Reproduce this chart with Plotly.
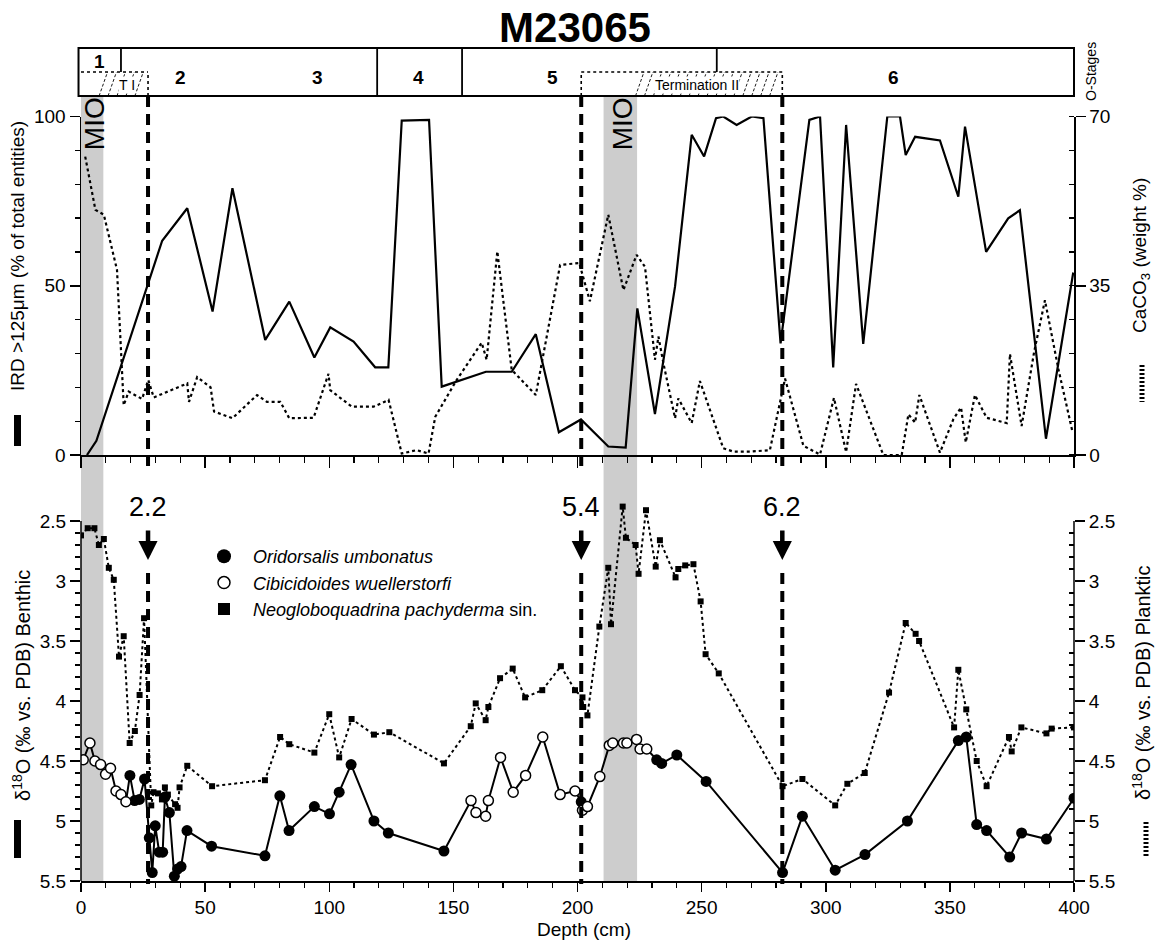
import plotly.graph_objects as go

# ---------------- data ----------------
# Upper panel: IRD >125 um (% of total entities), solid line
ird_depth = [2.4, 6.2, 32.7, 42.8, 53.0, 61.0, 74.2, 83.9, 94.0, 100.4, 109.8, 118.5, 123.8,
             129.2, 140.2, 145.3, 163.1, 173.5, 183.2, 192.5, 201.4, 212.4, 219.4, 224.1, 231.2,
             239.3, 246.0, 251.0, 255.8, 258.7, 264.1, 270.2, 274.9, 281.8, 293.4, 297.7, 303.0,
             308.2, 315.1, 324.8, 329.9, 332.2, 336.0, 346.0, 353.4, 356.1, 364.6, 373.5, 378.2,
             388.7, 399.7]
ird_value = [0, 4.2, 63.3, 72.9, 42.4, 78.8, 34.0, 45.3, 28.8, 37.7, 33.5, 25.9, 25.9,
             98.8, 99.0, 20.2, 24.6, 24.6, 35.7, 6.7, 10.5, 2.5, 2.2, 43.3, 12.1,
             49.8, 94.6, 88.2, 99.5, 100, 97.5, 100, 99.5, 33.0, 99.0, 100, 25.9,
             97.5, 32.8, 100, 100, 88.6, 94.0, 92.9, 76.3, 97.0, 60.0, 69.9, 72.3,
             4.8, 53.9]

# Upper panel: CaCO3 (weight %), dotted line
caco3_depth = [1.7, 5.8, 9.2, 14.5, 17.2, 19.2, 24.6, 27.1, 29.3, 42.8,
               43.5, 46.8, 52.2, 53.6, 61.0, 70.9, 74.9, 80.3, 83.9, 93.7,
               99.7, 100.4, 109.1, 117.9, 123.9, 129.2, 135.2, 140.0, 142.7, 151.3,
               161.4, 163.4, 167.7, 173.5, 183.2, 193.0, 200.7, 205.0, 212.4, 218.5,
               223.8, 227.2, 231.2, 232.6, 234.6, 239.3, 240.6, 246.0, 249.3, 258.7,
               262.8, 269.5, 277.5, 283.6, 291.0, 297.7, 303.3, 308.2, 312.2, 323.2,
               330.6, 333.3, 336.0, 337.7, 346.0, 351.4, 354.5, 356.4, 360.1, 364.8,
               372.9, 374.2, 378.9, 383.9, 388.3, 393.7, 399.3]
caco3_value = [61.7, 50.7, 49.7, 38.3, 10.3, 13.1, 11.6, 15.5, 11.9, 14.8,
               11.0, 16.1, 14.0, 9.0, 7.6, 12.4, 11.0, 11.0, 7.6, 7.7,
               16.8, 13.4, 10.0, 10.0, 11.4, 0.3, 1.0, 0.3, 7.9, 15.5,
               23.2, 19.7, 42.1, 17.6, 12.4, 39.3, 39.7, 31.8, 49.7, 34.1,
               41.4, 38.9, 19.7, 24.5, 19.0, 7.6, 11.7, 6.6, 15.3, 1.4,
               0.7, 0.7, 1.0, 15.8, 1.9, 0.1, 11.8, 0.6, 14.7, 0.0,
               0.0, 8.4, 6.7, 12.4, 0.5, 7.4, 9.8, 2.6, 12.4, 7.7,
               6.6, 20.9, 6.0, 21.2, 32.0, 17.8, 5.0]

# Lower panel: benthic d18O; taxon "O" = Oridorsalis umbonatus, "C" = Cibicidoides wuellerstorfi
benthic_depth = [0.9, 3.6, 5.6, 7.9, 9.9, 11.9, 14.1, 16.1, 18.1,
                 19.7, 21.6, 23.5, 25.6, 27.5, 28.7, 29.9, 31.5, 32.9, 33.8,
                 35.6, 37.6, 38.9, 40.3, 42.7, 52.6, 74.1, 80.1, 83.8, 94.0,
                 100.1, 104.0, 108.8, 118.0, 123.8, 146.2,
                 157.1, 159.1, 163.0, 164.1, 169.0, 174.1, 179.1, 186.0, 193.0, 199.0,
                 201.5,
                 202.0, 204.0, 209.0, 212.8, 214.2, 218.5, 219.9, 223.8, 225.2, 227.9,
                 231.9, 233.9, 240.0, 251.8, 282.6, 290.6, 303.8, 315.8, 332.9, 353.4,
                 356.6, 360.8, 364.8, 374.1, 378.9, 388.9, 400.0]
benthic_d18o = [4.49, 4.35, 4.50, 4.53, 4.61, 4.56, 4.75, 4.78, 4.84,
                4.62, 4.83, 4.82, 4.65, 5.14, 5.43, 5.04, 5.26, 5.26, 4.80,
                4.93, 5.46, 5.40, 5.38, 5.08, 5.21, 5.29, 4.79, 5.08, 4.88,
                4.94, 4.76, 4.53, 5.00, 5.10, 5.25,
                4.83, 4.93, 4.96, 4.83, 4.47, 4.76, 4.62, 4.30, 4.78, 4.75,
                4.84,
                4.91, 4.88, 4.63, 4.37, 4.35, 4.35, 4.35, 4.32, 4.40, 4.40,
                4.49, 4.52, 4.45, 4.67, 5.43, 4.96, 5.41, 5.28, 5.00, 4.33,
                4.30, 5.03, 5.08, 5.30, 5.10, 5.15, 4.81]
benthic_taxon = (["C"] * 9 + ["O"] * 26 + ["C"] * 10 + ["O"] + ["C"] * 10 + ["O"] * 17)

# Lower panel: planktic d18O (N. pachyderma sin.)
planktic_depth = [0.0, 2.7, 5.4, 7.2, 9.2, 11.2, 13.2, 15.3, 17.2, 19.6,
                  21.7, 23.6, 25.4, 28.3, 29.2, 31.0, 32.6, 33.8, 35.0, 37.9,
                  38.9, 39.7, 42.8, 52.8, 74.1, 80.2, 83.9, 94.0, 100.0, 104.0,
                  109.0, 118.0, 124.2, 146.2, 157.0, 159.0, 163.0, 164.1, 168.8, 173.9,
                  178.9, 185.8, 193.3, 199.0, 202.0, 202.3, 204.0, 208.8, 212.4, 213.5,
                  218.2, 219.5, 223.4, 224.6, 227.6, 231.5, 233.2, 239.5, 240.6, 243.4,
                  246.7, 249.6, 251.6, 256.9, 282.6, 290.6, 303.8, 308.7, 315.7, 325.5,
                  332.2, 336.2, 337.6, 351.7, 353.4, 356.6, 360.8, 364.8, 373.8, 374.9,
                  378.8, 388.9, 391.0, 400.0]
planktic_d18o = [2.62, 2.56, 2.56, 2.70, 2.65, 2.89, 2.99, 3.63, 3.46, 4.35,
                 4.25, 3.95, 3.31, 4.87, 4.76, 4.77, 4.82, 4.72, 4.78, 4.86,
                 4.89, 4.72, 4.54, 4.71, 4.66, 4.30, 4.36, 4.43, 4.11, 4.47,
                 4.15, 4.28, 4.26, 4.52, 4.21, 4.02, 4.16, 4.05, 3.81, 3.73,
                 3.97, 3.91, 3.71, 3.91, 3.97, 4.05, 4.12, 3.38, 2.89, 3.36,
                 2.38, 2.64, 2.70, 2.94, 2.41, 2.88, 2.66, 2.97, 2.90, 2.87,
                 2.86, 3.17, 3.61, 3.77, 4.71, 4.65, 4.87, 4.69, 4.60, 3.93,
                 3.35, 3.44, 3.50, 4.22, 3.74, 4.07, 4.50, 4.71, 4.30, 4.42,
                 4.22, 4.27, 4.23, 4.22]

# Oxygen isotope stages bar
stage_names = ["1", "2", "3", "4", "5", "6"]
stage_label_depth = [7.5, 40.0, 95.3, 136.0, 190.0, 327.3]
stage_bound_depth = [16.1, 119.3, 153.5, 256.1]
stage_bound_full = [False, True, True, False]
termination_names = ["T I", "Termination II"]
termination_start = [0.0, 201.5]
termination_end = [27.0, 282.5]
termination_label_depth = [18.4, 248.3]

# MIO intervals (shaded)
mio_start = [0.0, 210.5]
mio_end = [9.0, 224.0]

# Marked events
event_labels = ["2.2", "5.4", "6.2"]
event_depth = [27.0, 201.5, 282.5]

# ---------------- geometry helpers ----------------
W, H = 1159, 941
PLOT_L, PLOT_R, PLOT_T, PLOT_B = 81, 1074, 96, 881   # pixels of the plot area
ML, MR = PLOT_L, W - PLOT_R
MT, MB = PLOT_T, H - PLOT_B
PW, PH = PLOT_R - PLOT_L, PLOT_B - PLOT_T
DMAX = 400.0


def py(p):
    return (PLOT_B - p) / PH


def pxx(p):
    return (p - PLOT_L) / PW


def dx(d):
    return d / DMAX


FONT = "Liberation Sans, Arial, Helvetica, sans-serif"
K = "black"

fig = go.Figure()

# upper panel traces
fig.add_trace(go.Scatter(x=ird_depth, y=ird_value, xaxis="x", yaxis="y", mode="lines",
                         line=dict(color=K, width=2.2), showlegend=False, hoverinfo="skip"))
fig.add_trace(go.Scatter(x=caco3_depth, y=caco3_value, xaxis="x", yaxis="y2", mode="lines",
                         line=dict(color=K, width=2.2, dash="dot"), showlegend=False, hoverinfo="skip"))

# lower panel traces
fig.add_trace(go.Scatter(x=planktic_depth, y=planktic_d18o, xaxis="x2", yaxis="y4",
                         mode="lines+markers", line=dict(color=K, width=2, dash="dot"),
                         marker=dict(symbol="square", size=6, color=K),
                         showlegend=False, hoverinfo="skip"))
fig.add_trace(go.Scatter(x=benthic_depth, y=benthic_d18o, xaxis="x2", yaxis="y3", mode="lines",
                         line=dict(color=K, width=2), showlegend=False, hoverinfo="skip"))
ou_x = [d for d, t in zip(benthic_depth, benthic_taxon) if t == "O"]
ou_y = [v for v, t in zip(benthic_d18o, benthic_taxon) if t == "O"]
cw_x = [d for d, t in zip(benthic_depth, benthic_taxon) if t == "C"]
cw_y = [v for v, t in zip(benthic_d18o, benthic_taxon) if t == "C"]
fig.add_trace(go.Scatter(x=ou_x, y=ou_y, xaxis="x2", yaxis="y3", mode="markers",
                         marker=dict(symbol="circle", size=11, color=K),
                         showlegend=False, hoverinfo="skip"))
fig.add_trace(go.Scatter(x=cw_x, y=cw_y, xaxis="x2", yaxis="y3", mode="markers",
                         marker=dict(symbol="circle", size=10, color="white", line=dict(color=K, width=1.5)),
                         showlegend=False, hoverinfo="skip"))

# legend entries
SP = "\u2002"
fig.add_trace(go.Scatter(x=[None], y=[None], xaxis="x2", yaxis="y3", mode="markers",
                         marker=dict(symbol="circle", size=14, color=K),
                         name=SP + "<i>Oridorsalis umbonatus</i>"))
fig.add_trace(go.Scatter(x=[None], y=[None], xaxis="x2", yaxis="y3", mode="markers",
                         marker=dict(symbol="circle", size=12, color="white", line=dict(color=K, width=1.5)),
                         name=SP + "<i>Cibicidoides wuellerstorfi</i>"))
fig.add_trace(go.Scatter(x=[None], y=[None], xaxis="x2", yaxis="y3", mode="markers",
                         marker=dict(symbol="square", size=12, color=K),
                         name=SP + "<i>Neogloboquadrina pachyderma</i> sin."))

tickfont = dict(family=FONT, size=19, color=K)
common = dict(showgrid=False, zeroline=False, tickcolor=K, tickwidth=1.5, tickfont=tickfont,
              linecolor=K, linewidth=1.5)

minor_d18o = [round(2.5 + 0.1 * i, 1) for i in range(31) if i % 5 != 0]
major_d18o = [2.5, 3.0, 3.5, 4.0, 4.5, 5.0, 5.5]
major_d18o_text = ["2.5", "3", "3.5", "4", "4.5", "5", "5.5"]

fig.update_layout(
    width=W, height=H,
    margin=dict(l=ML, r=MR, t=MT, b=MB, autoexpand=False),
    paper_bgcolor="white", plot_bgcolor="white",
    font=dict(family=FONT, color=K),
    hovermode=False,
    title=dict(text="<b>M23065</b>", x=pxx(575), xref="paper", xanchor="center",
               y=1 - 27 / H, yref="container", yanchor="middle",
               font=dict(family=FONT, size=42, color=K)),
    xaxis=dict(domain=[0, 1], range=[0, 400], anchor="y", showticklabels=False,
               ticks="outside", tick0=0, dtick=50, ticklen=11,
               minor=dict(dtick=10, tick0=0, ticks="outside", ticklen=6, tickcolor=K, tickwidth=1.2),
               showline=True, **common),
    yaxis=dict(domain=[py(455), py(116.5)], range=[0, 100], anchor="x",
               tickvals=[0, 50, 100], ticks="outside", ticklen=10,
               minor=dict(dtick=10, tick0=0, ticks="outside", ticklen=5, tickcolor=K, tickwidth=1.2),
               showline=True, **common),
    yaxis2=dict(overlaying="y", side="right", anchor="x", range=[0, 70],
                tickvals=[0, 35, 70], ticks="outside", ticklen=10,
                minor=dict(dtick=7, tick0=0, ticks="inside", ticklen=5, tickcolor=K, tickwidth=1.2),
                showline=True, **common),
    xaxis2=dict(domain=[0, 1], range=[0, 400], anchor="y3",
                ticks="outside", tick0=0, dtick=50, ticklen=9,
                minor=dict(dtick=10, tick0=0, ticks="outside", ticklen=5, tickcolor=K, tickwidth=1.2),
                showline=True, **common),
    yaxis3=dict(domain=[0, py(497)], range=[5.5, 2.3], anchor="x2",
                tickvals=major_d18o, ticktext=major_d18o_text, ticks="outside", ticklen=10,
                minor=dict(tickvals=minor_d18o, ticks="outside", ticklen=5, tickcolor=K, tickwidth=1.2),
                showline=False, **common),
    yaxis4=dict(overlaying="y3", side="right", anchor="x2", range=[5.5, 2.3],
                tickvals=major_d18o, ticktext=major_d18o_text, ticks="outside", ticklen=10,
                minor=dict(tickvals=minor_d18o, ticks="inside", ticklen=5, tickcolor=K, tickwidth=1.2),
                showline=False, **common),
    legend=dict(x=pxx(204), y=py(538), xanchor="left", yanchor="top",
                font=dict(family=FONT, size=18, color=K), bgcolor="rgba(0,0,0,0)",
                tracegroupgap=0, itemwidth=30),
)

shapes = []
# MIO shaded bands
for a, b in zip(mio_start, mio_end):
    shapes.append(dict(type="rect", xref="paper", yref="paper", x0=dx(a), x1=dx(b), y0=0, y1=1,
                       fillcolor="#cdcdcd", line=dict(width=0), layer="below"))

# lower-panel y axis lines (2.5 .. 5.5)
for xp in (0, 1):
    shapes.append(dict(type="line", xref="paper", yref="y3", x0=xp, x1=xp, y0=2.5, y1=5.5,
                       line=dict(color=K, width=1.5)))

# stage bar
bar_top, bar_mid, bar_bot = py(48), py(72), py(96)
shapes.append(dict(type="rect", xref="paper", yref="paper", x0=dx(-1), x1=dx(400),
                   y0=bar_bot, y1=bar_top, line=dict(color=K, width=2)))
for d, full in zip(stage_bound_depth, stage_bound_full):
    shapes.append(dict(type="line", xref="paper", yref="paper", x0=dx(d), x1=dx(d),
                       y0=bar_bot if full else bar_mid, y1=bar_top, line=dict(color=K, width=1.8)))
# termination boxes (dotted) with hatching
for i, (a, b) in enumerate(zip(termination_start, termination_end)):
    shapes.append(dict(type="line", xref="paper", yref="paper", x0=dx(max(a, -1)), x1=dx(b),
                       y0=bar_mid, y1=bar_mid, line=dict(color=K, width=1.6, dash="dot")))
    shapes.append(dict(type="line", xref="paper", yref="paper", x0=dx(b), x1=dx(b),
                       y0=bar_bot, y1=bar_mid, line=dict(color=K, width=1.6, dash="dot")))
    if a > 0:
        shapes.append(dict(type="line", xref="paper", yref="paper", x0=dx(a), x1=dx(a),
                           y0=bar_bot, y1=bar_mid, line=dict(color=K, width=1.6, dash="dot")))
    slant = 3.4
    spacing = 3.6
    xh = a + (b - a) * 0.27
    while xh + slant <= b + 0.01:
        shapes.append(dict(type="line", xref="paper", yref="paper", x0=dx(xh), x1=dx(xh + slant),
                           y0=bar_bot, y1=bar_mid, line=dict(color=K, width=0.9, dash="3px,2px")))
        xh += spacing

# event dashed lines
for d in event_depth:
    shapes.append(dict(type="line", xref="paper", yref="paper", x0=dx(d), x1=dx(d),
                       y0=py(96), y1=py(466), line=dict(color=K, width=4, dash="11px,7px")))
    shapes.append(dict(type="line", xref="paper", yref="paper", x0=dx(d), x1=dx(d),
                       y0=py(573), y1=py(884), line=dict(color=K, width=4, dash="11px,7px")))

# axis-title indicators
shapes.append(dict(type="line", xref="paper", yref="paper", x0=pxx(17.5), x1=pxx(17.5),
                   y0=py(415), y1=py(446), line=dict(color=K, width=7)))
shapes.append(dict(type="line", xref="paper", yref="paper", x0=pxx(17.5), x1=pxx(17.5),
                   y0=py(820), y1=py(858), line=dict(color=K, width=7)))
shapes.append(dict(type="line", xref="paper", yref="paper", x0=pxx(1142), x1=pxx(1142),
                   y0=py(365), y1=py(402), line=dict(color=K, width=5, dash="2px,2px")))
shapes.append(dict(type="line", xref="paper", yref="paper", x0=pxx(1146), x1=pxx(1146),
                   y0=py(822), y1=py(858), line=dict(color=K, width=5, dash="2px,2px")))

fig.update_layout(shapes=shapes)


def label(text, x, y, size, xref="paper", angle=0, **kw):
    return dict(text=text, xref=xref, yref="paper", x=x, y=y, xanchor="center", yanchor="middle",
                textangle=angle, showarrow=False, font=dict(family=FONT, size=size, color=K), **kw)


ann = []
# stage labels
for name, d in zip(stage_names, stage_label_depth):
    ypx = 61 if name == "1" else 77
    ann.append(label("<b>%s</b>" % name, dx(d), py(ypx), 19))
for name, d in zip(termination_names, termination_label_depth):
    ann.append(label(name, dx(d), py(85), 14, bgcolor="white", borderpad=0))
ann.append(label("O-Stages", pxx(1091), py(72), 14, angle=-90))
# MIO labels
for a, b in zip(mio_start, mio_end):
    ann.append(label("MIO", dx((a + b) / 2 + 0.8), py(124), 28, angle=-90))
# axis titles
ann.append(label("IRD >125\u03bcm (% of total entities)", pxx(18), py(256), 19, angle=-90))
ann.append(label("CaCO<sub>3</sub> (weight %)", pxx(1141), py(256), 19, angle=-90))
ann.append(label("\u03b4<sup>18</sup>O (\u2030 vs. PDB) Benthic", pxx(21), py(686), 20, angle=-90))
ann.append(label("\u03b4<sup>18</sup>O (\u2030 vs. PDB) Planktic", pxx(1141), py(683), 20, angle=-90))
ann.append(label("Depth (cm)", pxx(584), py(929), 19))
# events: label with downward arrow to the dashed line
for lab, d in zip(event_labels, event_depth):
    ann.append(dict(text=lab, xref="x2", yref="paper", x=d, y=py(560), ax=0, ay=-53,
                    showarrow=True, arrowhead=2, arrowsize=0.85, arrowwidth=4.5, arrowcolor=K,
                    startstandoff=7, font=dict(family=FONT, size=27, color=K)))
fig.update_layout(annotations=ann)

fig.write_html("out.html", config={"displayModeBar": False, "staticPlot": True},
               post_script="document.body.style.margin='0';document.body.style.overflow='hidden';")
